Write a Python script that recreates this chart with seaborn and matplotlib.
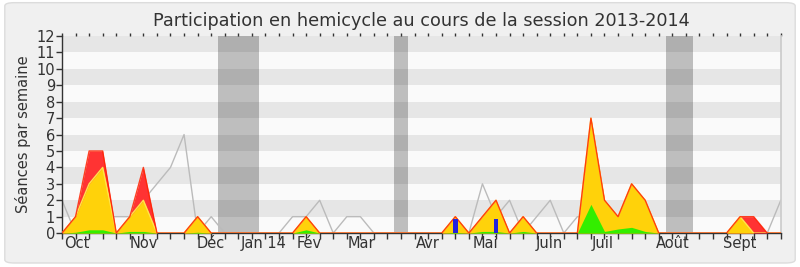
import numpy as np
import pandas as pd
import seaborn as sns
import matplotlib
matplotlib.use("Agg")
import matplotlib.pyplot as plt
from matplotlib.patches import FancyBboxPatch

# ---- data (weekly values, session 2013-2014) ----
weeks = list(range(54))
total = [0, 1, 5, 5, 0, 1, 4, 0, 0, 0, 1, 0, 0, 0, 0, 0, 0, 0, 1, 0,
         0, 0, 0, 0, 0, 0, 0, 0, 0, 1, 0, 1, 2, 0, 1, 0, 0, 0, 0, 7,
         2, 1, 3, 2, 0, 0, 0, 0, 0, 0, 1, 1, 0, 0]
present = [0, 1, 3, 4, 0, 1, 2, 0, 0, 0, 1, 0, 0, 0, 0, 0, 0, 0, 1, 0,
           0, 0, 0, 0, 0, 0, 0, 0, 0, 1, 0, 1, 2, 0, 1, 0, 0, 0, 0, 7,
           2, 1, 3, 2, 0, 0, 0, 0, 0, 0, 1, 0, 0, 0]
speaking = [0, 0.05, 0.2, 0.2, 0, 0.1, 0.1, 0, 0, 0, 0.05, 0, 0, 0, 0, 0, 0, 0, 0.2, 0,
            0, 0, 0, 0, 0, 0, 0, 0, 0, 0.05, 0, 0.1, 0.1, 0, 0.1, 0, 0, 0, 0, 1.75,
            0.1, 0.25, 0.35, 0.1, 0, 0, 0, 0, 0, 0, 0, 0, 0, 0]
questions_weeks = [29, 32]
questions = [0.85, 0.85]
median = [2, 0, 1, 1, 1, 1, 2, 3, 4, 6, 0, 1, 0, 0, 0, 0, 0, 1, 1, 2,
          0, 1, 1, 0, 0, 0, 0, 0, 0, 0, 0, 3, 1, 2, 0, 1, 2, 0, 1, 1,
          1, 1, 1, 1, 0, 0, 0, 0, 0, 0, 0, 0, 0, 2]
vacations = [(11.5, 14.5), (24.5, 25.5), (44.5, 46.5)]
month_pos = [1.1, 6.0, 10.95, 14.9, 18.2, 22.1, 27.0, 31.2, 35.9, 39.9, 45.0, 50.0]
month_labels = ["Oct", "Nov", "Déc", "Jan 14", "Fév", "Mar", "Avr", "Mai",
                "Juin", "Juil", "Août", "Sept"]
title = "Participation en hemicycle au cours de la session 2013-2014"
ylabel = "Séances par semaine"

df = pd.DataFrame({"week": weeks, "total": total, "present": present,
                   "speaking": speaking, "median": median})

sns.set_theme(style="white")
plt.rcParams["font.family"] = ["DejaVu Sans"]
txt = "#333333"

fig = plt.figure(figsize=(8, 2.67), dpi=100)
fig.patch.set_facecolor("white")
bg = FancyBboxPatch((0.006, 0.015), 0.988, 0.975, boxstyle="round,pad=0,rounding_size=0.012",
                    transform=fig.transFigure, facecolor="#F0F0F0", edgecolor="#DCDCDC",
                    linewidth=1, zorder=-10)
fig.patches.append(bg)

ax = fig.add_axes([0.0775, 0.127, 0.8985, 0.738])
ax.set_facecolor("#FAFAFA")
ax.set_xlim(0, 53)
ax.set_ylim(0, 12)

for k in range(1, 12, 2):
    ax.axhspan(k, k + 1, color="#E6E6E6", lw=0, zorder=0)
for a, b in vacations:
    ax.axvspan(a, b, color="black", alpha=0.24, lw=0, zorder=1)

sns.lineplot(data=df, x="week", y="median", ax=ax, color="#BBBBBB", lw=1, zorder=2)
ax.fill_between(df["week"], df["total"], color="#FF3333", lw=0, zorder=3)
ax.fill_between(df["week"], df["present"], color="#FFD20A", lw=0, zorder=4)
sns.lineplot(data=df, x="week", y="present", ax=ax, color="#FFE54A", lw=1, zorder=4.5)
ax.fill_between(df["week"], df["speaking"], color="#33EE00", lw=0, zorder=5)
sns.lineplot(data=df, x="week", y="total", ax=ax, color="#FF2200", lw=1, alpha=0.85, zorder=6)
ax.bar(questions_weeks, questions, width=0.36, color="#2222DD", lw=0, zorder=7)

ax.set_xlabel("")
ax.set_ylabel(ylabel, fontsize=10.5, color=txt, labelpad=4)
ax.set_title(title, fontsize=12.7, color=txt, pad=7)

ax.set_yticks(range(0, 13))
ax.set_yticklabels([str(i) for i in range(13)], fontsize=10.5, color=txt)
ax.set_xticks(weeks)
ax.set_xticklabels([""] * len(weeks))
ax.tick_params(axis="x", which="major", bottom=True, length=4, width=1, color="#333333", direction="out")
ax.tick_params(axis="y", left=True, length=4, width=1, color="#333333", pad=1)

lab = ax.secondary_xaxis("bottom")
lab.set_xticks(month_pos)
lab.set_xticklabels(month_labels, fontsize=10.5, color=txt)
lab.tick_params(length=0, pad=2)
lab.spines["bottom"].set_visible(False)

sec = ax.secondary_xaxis("top")
sec.set_xticks(weeks)
sec.set_xticklabels([""] * len(weeks))
sec.tick_params(length=2, width=1, color="#333333", direction="out")
sec.spines["top"].set_visible(False)

for s in ["left", "bottom"]:
    ax.spines[s].set_visible(True)
    ax.spines[s].set_color("#333333")
    ax.spines[s].set_linewidth(1)
ax.spines["top"].set_visible(False)
ax.spines["right"].set_visible(True)
ax.spines["right"].set_color("#CCCCCC")

fig.savefig("out.png", dpi=100, facecolor=fig.get_facecolor())
